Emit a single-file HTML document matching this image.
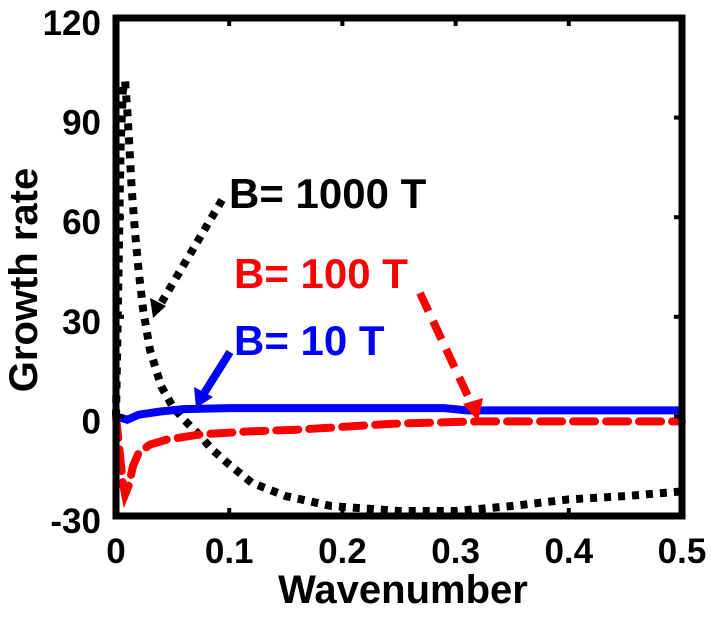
<!DOCTYPE html>
<html><head><meta charset="utf-8"><style>
html,body{margin:0;padding:0;background:#fff;}
svg{display:block;font-family:"Liberation Sans",Arial,sans-serif;font-weight:bold;}
</style></head><body>
<svg id="chart" width="711" height="632" viewBox="0 0 711 632">
<g id="marks"></g>
<g id="frame"></g>
<g id="labels"></g>
</svg>
<script>
const xTicks=[0,0.1,0.2,0.3,0.4,0.5];
const xTickLabels=["0","0.1","0.2","0.3","0.4","0.5"];
const yTicks=[-30,0,30,60,90,120];
const yTickLabels=["-30","0","30","60","90","120"];
const k1000=[0,0.002,0.004,0.006,0.008,0.01,0.012,0.014,0.017,0.02,0.024,0.03,0.04,0.05,0.06,0.072,0.085,0.1,0.12,0.15,0.19,0.25,0.3,0.35,0.4,0.45,0.5];
const g1000=[0,40,80,98,101,92,80,68,55,44,32,20,9,3,-1,-5,-10,-14.5,-20,-24,-27,-28.5,-28.5,-27,-25,-24,-22.6];
const k100=[0,0.003,0.006,0.008,0.011,0.015,0.02,0.03,0.045,0.075,0.12,0.16,0.245,0.32,0.4,0.5];
const g100=[0,-10,-20,-23.5,-21,-15,-11,-8.5,-7,-5.4,-4.5,-4,-2.2,-1.5,-1.5,-1.5];
const k10=[0,0.005,0.01,0.02,0.04,0.06,0.1,0.29,0.31,0.5];
const g10=[0,-0.5,-1,0.5,1.5,2.2,2.5,2.5,1.8,1.8];

const L=116,R=682,T=18,B=516;
const xs=v=>L+(v-0)/(0.5-0)*(R-L);
const ys=v=>B-(v+30)/150*(B-T);
const NS="http://www.w3.org/2000/svg";
function mk(tag,attrs,parent){const e=document.createElementNS(NS,tag);for(const k in attrs)e.setAttribute(k,attrs[k]);parent.appendChild(e);return e;}
const marks=document.getElementById('marks'),frame=document.getElementById('frame'),labels=document.getElementById('labels');
function pts(ks,gs){return ks.map((k,i)=>xs(k).toFixed(1)+","+ys(gs[i]).toFixed(1)).join(" ");}

let p=mk('polyline',{points:pts(k1000,g1000),fill:'none',stroke:'#000','stroke-width':8,'stroke-dasharray':'7 7'},marks);


p=mk('polyline',{points:pts(k100,g100),fill:'none',stroke:'#ff0000','stroke-width':8,'stroke-dasharray':'22 11','stroke-linecap':'round'},marks);


p=mk('polyline',{points:pts(k10,g10),fill:'none',stroke:'#0000ff','stroke-width':8},marks);



let f=mk('rect',{x:L,y:T,width:R-L,height:B-T,fill:'none',stroke:'#000','stroke-width':7},frame);


xTicks.forEach((t,i)=>{
  const x=xs(t);
  mk('line',{x1:x,y1:B,x2:x,y2:B-8,stroke:'#000','stroke-width':4},frame);
  mk('line',{x1:x,y1:T,x2:x,y2:T+8,stroke:'#000','stroke-width':4},frame);
  const tx=mk('text',{x:x,y:563,'font-size':35,'text-anchor':'middle'},labels);
  tx.textContent=xTickLabels[i];
  
  
});
yTicks.forEach((t,i)=>{
  const y=ys(t);
  mk('line',{x1:R,y1:y,x2:R-8,y2:y,stroke:'#000','stroke-width':4},frame);
  mk('line',{x1:L,y1:y,x2:L+8,y2:y,stroke:'#000','stroke-width':4},frame);
  const tx=mk('text',{x:101,y:y+17,'font-size':35,'text-anchor':'end'},labels);
  tx.textContent=yTickLabels[i];
  
  
});
</script>
<svg width="711" height="632" style="position:absolute;left:0;top:0">
<text x="403" y="603" font-size="40" font-weight="bold" text-anchor="middle" font-family="Liberation Sans, sans-serif">Wavenumber</text>
<text x="0" y="0" font-size="40" font-weight="bold" text-anchor="middle" font-family="Liberation Sans, sans-serif" transform="translate(37,280) rotate(-90)">Growth rate</text>
<text x="229" y="208" font-size="42" font-weight="bold" font-family="Liberation Sans, sans-serif" fill="#000">B= 1000 T</text>
<text x="234" y="288" font-size="42" font-weight="bold" font-family="Liberation Sans, sans-serif" fill="#ff0000">B= 100 T</text>
<text x="234" y="355" font-size="42" font-weight="bold" font-family="Liberation Sans, sans-serif" fill="#0000ff">B= 10 T</text>
<line x1="222" y1="200" x2="160" y2="305" stroke="#000" stroke-width="8" stroke-dasharray="7 7"/>
<polygon points="153,318 150,298 166,306" fill="#000"/>
<line x1="420" y1="293" x2="472" y2="405" stroke="#ff0000" stroke-width="8" stroke-dasharray="20 11"/>
<polygon points="478,421 463,404 483,398" fill="#ff0000"/>
<line x1="230" y1="352" x2="203" y2="395" stroke="#0000ff" stroke-width="8"/>
<polygon points="196,408 194,387 213,397" fill="#0000ff"/>
</svg>
</body></html>
